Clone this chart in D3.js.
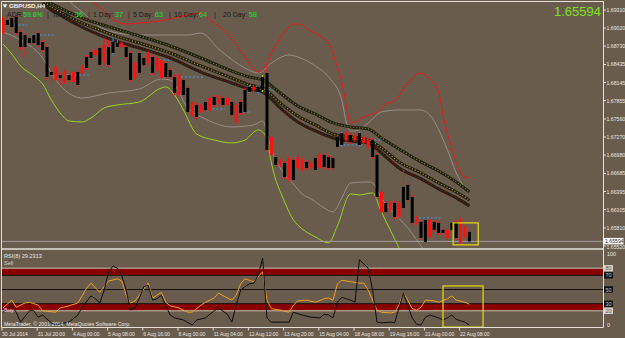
<!DOCTYPE html>
<html>
<head>
<meta charset="utf-8">
<script src="https://cdn.jsdelivr.net/npm/d3@7"></script>
<style>
html, body { margin: 0; padding: 0; background: #6a5c4d; }
svg { display: block; font-family: "Liberation Sans", Arial, sans-serif; }
</style>
</head>
<body>
<svg id="chart" width="625" height="338"></svg>
<script>
// ---- data ----
const symbol = "GBPUSD,H4";
const lastPrice = 1.65594;
const rsiLabel = "RSI(8) 29.2313";
const copyright = "MetaTrader, \u00a9 2001-2014, MetaQuotes Software Corp.";

const adrNames = ["ADR:", "Today:", "1 Day:", "5 Day:", "10 Day:", "20 Day:"];
const adrValues = ["59.8%", "36", "37", "63", "64", "58"];

const opens = [1.68940,1.69149,1.69181,1.69197,1.68956,1.68908,1.68860,1.68908,1.68940,1.68796,
  1.68716,1.68314,1.68186,1.68266,1.68154,1.68266,1.68154,1.68314,1.68298,1.68555,
  1.68635,1.68587,1.68700,1.68475,1.68716,1.68796,1.68780,1.68716,1.68716,1.68619,
  1.68218,1.68619,1.68539,1.68459,1.68555,1.68347,1.68218,1.68459,1.68347,1.68234,
  1.67945,1.68186,1.68058,1.67624,1.67785,1.67672,1.67833,1.67705,1.67913,1.67817,
  1.67897,1.67785,1.67833,1.67512,1.67833,1.68026,1.68074,1.68026,1.68074,1.68234,
  1.68298,1.66982,1.66950,1.66822,1.66854,1.66581,1.66902,1.66774,1.66742,1.66870,
  1.66774,1.66934,1.66774,1.66982,1.66950,1.66934,1.67271,1.67335,1.67223,1.67303,
  1.67223,1.67335,1.67175,1.67111,1.67223,1.66982,1.66067,1.66212,1.66100,1.66212,
  1.65987,1.66469,1.66501,1.66308,1.65891,1.65907,1.65939,1.65666,1.65907,1.65891,
  1.65779,1.65650,1.65891,1.65907,1.65570,1.65666,1.65746];
const highs = [1.69213,1.69181,1.69213,1.69229,1.68988,1.68940,1.68892,1.68940,1.68972,1.68828,
  1.68780,1.68379,1.68427,1.68314,1.68347,1.68298,1.68347,1.68347,1.68427,1.68587,
  1.68668,1.68700,1.68732,1.68860,1.68828,1.68860,1.68828,1.68812,1.68748,1.68651,
  1.68491,1.68651,1.68571,1.68651,1.68587,1.68571,1.68539,1.68491,1.68379,1.68266,
  1.68298,1.68218,1.68090,1.67849,1.67817,1.67817,1.67865,1.67929,1.67945,1.67945,
  1.67929,1.67929,1.67865,1.67817,1.67865,1.68058,1.68106,1.68106,1.68106,1.68266,
  1.68427,1.67303,1.66982,1.66934,1.66886,1.66966,1.66934,1.66982,1.66934,1.66902,
  1.66886,1.66966,1.67014,1.67014,1.66982,1.66966,1.67303,1.67367,1.67367,1.67335,
  1.67335,1.67367,1.67303,1.67255,1.67255,1.67014,1.66420,1.66244,1.66244,1.66244,
  1.66244,1.66742,1.66533,1.66340,1.66003,1.65939,1.65971,1.65971,1.65939,1.65923,
  1.65811,1.65811,1.65923,1.65939,1.65971,1.65859,1.65778];
const lows = [1.68908,1.69037,1.69005,1.68908,1.68668,1.68555,1.68748,1.68748,1.68716,1.68635,
  1.68186,1.68138,1.68154,1.68106,1.68122,1.68154,1.68122,1.68074,1.68266,1.68347,
  1.68507,1.68555,1.68395,1.68427,1.68395,1.68587,1.68700,1.68700,1.68523,1.68154,
  1.68186,1.68266,1.68395,1.68427,1.68266,1.68314,1.68186,1.68202,1.68202,1.67945,
  1.67913,1.67913,1.67640,1.67592,1.67560,1.67640,1.67672,1.67672,1.67753,1.67785,
  1.67753,1.67753,1.67592,1.67480,1.67624,1.67640,1.67961,1.67993,1.67961,1.67993,
  1.67031,1.66950,1.66790,1.66790,1.66597,1.66549,1.66549,1.66742,1.66710,1.66742,
  1.66742,1.66710,1.66742,1.66758,1.66742,1.66742,1.67079,1.67111,1.67191,1.67159,
  1.67191,1.67111,1.67143,1.67079,1.66918,1.66276,1.66035,1.66035,1.66067,1.65955,
  1.65955,1.66100,1.66228,1.65859,1.65859,1.65618,1.65554,1.65634,1.65746,1.65698,
  1.65698,1.65618,1.65746,1.65618,1.65554,1.65634,1.65570];
const closes = [1.69181,1.69069,1.69037,1.68940,1.68716,1.68716,1.68780,1.68780,1.68748,1.68668,
  1.68234,1.68266,1.68395,1.68218,1.68314,1.68186,1.68314,1.68106,1.68395,1.68379,
  1.68539,1.68668,1.68427,1.68748,1.68427,1.68619,1.68716,1.68780,1.68555,1.68186,
  1.68459,1.68298,1.68427,1.68619,1.68298,1.68539,1.68507,1.68234,1.68234,1.67977,
  1.68266,1.67945,1.67672,1.67817,1.67592,1.67785,1.67705,1.67897,1.67785,1.67913,
  1.67785,1.67897,1.67624,1.67785,1.67656,1.67672,1.67993,1.68074,1.67993,1.68026,
  1.67063,1.67271,1.66822,1.66902,1.66629,1.66934,1.66581,1.66950,1.66902,1.66774,
  1.66854,1.66742,1.66982,1.66790,1.66774,1.66774,1.67111,1.67143,1.67335,1.67191,
  1.67303,1.67143,1.67271,1.67223,1.66950,1.66308,1.66388,1.66067,1.66212,1.65987,
  1.66212,1.66132,1.66260,1.65891,1.65971,1.65650,1.65586,1.65939,1.65779,1.65730,
  1.65730,1.65779,1.65779,1.65650,1.65939,1.65827,1.65594];

// bars painted by the signal indicator
const blueBars = [25, 26, 56, 58, 77, 81];
const greenBars = [59];

// [bar, price] samples of the overlay lines
const bandRed = [[19,1.69566],[20,1.69470],[21,1.69406],[23,1.69293],[26,1.69117],[28,1.69085],[31,1.69101],[37,1.69149],[42,1.69229],[45,1.69261],[47,1.69149],[49,1.69053],[52,1.68844],[55,1.68555],[57,1.68363],[58,1.68314],[59,1.68347],[61,1.68619],[63,1.68860],[65,1.69037],[66,1.69085],[67,1.69085],[70,1.68972],[72,1.68892],[74,1.68780],[76,1.68395],[77,1.68154],[78,1.67785],[79,1.67496],[80,1.67512],[82,1.67592],[85,1.67672],[87,1.67801],[89,1.67849],[92,1.68138],[95,1.68298],[97,1.68202],[99,1.67993],[100,1.67624],[102,1.67095],[104,1.66694],[105,1.66629],[106,1.66612]];
const bandGrayUp = [[14,1.69534],[15,1.69454],[16,1.69390],[18,1.69277],[22,1.69037],[25,1.68956],[31,1.68908],[38,1.68908],[42,1.68908],[45,1.68940],[49,1.68684],[55,1.68379],[58,1.68298],[61,1.68459],[65,1.68587],[67,1.68555],[71,1.68411],[74,1.68234],[77,1.67865],[78,1.67512],[79,1.67367],[80,1.67367],[83,1.67496],[86,1.67672],[90,1.67705],[95,1.67705],[97,1.67624],[101,1.67063],[103,1.66694],[105,1.66453],[106,1.66388]];
const bandGrayLow = [[0,1.68956],[4,1.68828],[9,1.68539],[12,1.68186],[18,1.67897],[24,1.67977],[31,1.68042],[36,1.68202],[38,1.68186],[42,1.67737],[46,1.67560],[52,1.67432],[57,1.67464],[59,1.67528],[61,1.67063],[63,1.66774],[66,1.66517],[68,1.66356],[70,1.66276],[73,1.66132],[75,1.66067],[77,1.66292],[79,1.66533],[83,1.66549],[84,1.66533],[86,1.66292],[89,1.66035],[92,1.65811],[94,1.65619],[96,1.65425],[98,1.65265]];
const bandLime = [[0,1.68764],[2,1.68603],[4,1.68411],[7,1.68250],[9,1.68122],[11,1.67865],[13,1.67656],[15,1.67528],[18,1.67512],[20,1.67576],[23,1.67737],[26,1.67785],[31,1.67833],[36,1.68058],[37,1.68074],[39,1.67945],[41,1.67705],[44,1.67319],[48,1.67223],[52,1.67175],[55,1.67223],[58,1.67384],[59,1.67351],[60,1.67223],[61,1.66854],[64,1.66228],[66,1.65939],[68,1.65795],[71,1.65666],[74,1.65570],[76,1.65843],[79,1.66356],[81,1.66340],[84,1.66372],[86,1.66067],[88,1.65779],[90,1.65490],[91,1.65361]];

const maTop = [[9,1.69502],[10,1.69454],[13,1.69342],[17,1.69213],[22,1.69085],[25,1.69021],[31,1.68892],[38,1.68732],[45,1.68539],[52,1.68330],[56,1.68234],[59,1.68186],[63,1.67977],[67,1.67769],[71,1.67640],[75,1.67496],[79,1.67432],[83,1.67400],[86,1.67255],[90,1.67079],[95,1.66870],[99,1.66725],[103,1.66549],[106,1.66388]];
const maMid = [[9,1.69470],[10,1.69406],[13,1.69277],[17,1.69133],[22,1.68989],[25,1.68908],[31,1.68780],[38,1.68619],[45,1.68411],[52,1.68218],[56,1.68106],[59,1.68058],[63,1.67817],[67,1.67608],[71,1.67464],[75,1.67319],[79,1.67271],[83,1.67223],[86,1.67095],[90,1.66870],[95,1.66693],[99,1.66533],[103,1.66388],[106,1.66260]];
const maLow = [[9,1.69422],[10,1.69358],[13,1.69229],[17,1.69069],[22,1.68908],[25,1.68828],[31,1.68700],[38,1.68539],[45,1.68314],[52,1.68138],[56,1.68042],[59,1.67993],[63,1.67737],[67,1.67512],[71,1.67367],[75,1.67255],[79,1.67207],[83,1.67175],[86,1.67014],[90,1.66774],[95,1.66597],[99,1.66437],[103,1.66292],[106,1.66164]];

// short blue dotted levels: [fromBar, toBar, price]
const blueLevels = [[3,5,1.69069],[7,11,1.68908],[15,19,1.68266],[36,38,1.68507],[40,45,1.68234],[48,50,1.67721],[55,56,1.67672],[59,62,1.68026],[76,81,1.67143],[83,86,1.67223],[95,99,1.65971]];

// lower window: [bar, value]
const rsiFast = [[0,18],[2,27],[3,18],[4,4],[6,20],[7,20],[8,11],[9,14],[11,3],[12,0],[14,3],[15,4],[17,14],[18,25],[20,41],[21,37],[22,31],[23,49],[24,75],[25,83],[26,80],[27,69],[28,49],[29,21],[30,24],[31,38],[32,54],[33,56],[34,35],[35,37],[36,42],[37,27],[38,14],[39,10],[41,7],[43,0],[44,7],[46,10],[48,20],[49,24],[51,15],[52,4],[53,28],[54,49],[55,54],[56,58],[57,59],[58,70],[59,94],[60,10],[61,4],[63,4],[65,4],[66,18],[68,14],[70,11],[72,10],[73,15],[74,14],[75,10],[76,32],[77,39],[78,37],[79,35],[80,32],[81,92],[82,86],[83,80],[84,49],[85,4],[86,3],[88,4],[89,3],[90,24],[91,45],[92,27],[93,10],[94,1],[95,0],[96,11],[97,14],[99,10],[100,7],[101,10],[102,14],[103,8],[104,6],[105,4],[106,0]];
const rsiSlow = [[0,24],[2,35],[3,25],[5,31],[6,32],[8,28],[9,20],[12,18],[13,24],[15,27],[17,31],[18,41],[19,52],[20,59],[22,46],[23,54],[24,62],[26,65],[27,62],[28,42],[29,31],[30,34],[31,42],[33,59],[34,38],[35,42],[36,46],[37,32],[38,27],[40,24],[42,18],[43,18],[45,28],[46,32],[48,38],[49,45],[51,38],[52,35],[53,42],[54,58],[55,65],[56,63],[57,61],[58,68],[59,75],[60,35],[61,23],[63,21],[65,18],[66,28],[67,34],[69,35],[71,32],[73,37],[74,38],[75,35],[76,58],[77,63],[79,61],[81,59],[82,59],[83,49],[85,21],[86,18],[88,17],[89,18],[90,28],[91,45],[92,35],[93,23],[94,21],[95,25],[96,35],[98,34],[99,32],[101,37],[102,41],[103,35],[105,32],[106,29.23]];

const rsiLevels = [80, 70, 50, 30, 20];
const rsiZones = [[70, 80], [20, 30]];

const priceTicks = [1.69310,1.69020,1.68730,1.68435,1.68145,1.67855,1.67560,1.67270,1.66980,1.66685,1.66395,1.66105,1.65810,1.65520];
const dateIdx = [0,8,16,24,32,40,48,56,64,72,80,88,96,104];
const dateLabels = ["30 Jul 2014","31 Jul 20:00","4 Aug 00:00","5 Aug 08:00","6 Aug 16:00","8 Aug 00:00","11 Aug 04:00","12 Aug 12:00","13 Aug 20:00","15 Aug 04:00","18 Aug 08:00","19 Aug 16:00","21 Aug 00:00","22 Aug 08:00"];

// yellow markup boxes: bars and values
const boxMain = {from: 102.3, to: 108, hi: 1.65891, lo: 1.65538};
const boxRsi = {from: 100, to: 109.1, hi: 55, lo: -3};

// ---- layout ----
const svg = d3.select("#chart");
const bg = "#6a5c4d";
const frameColor = "#e6e0d6";
const textColor = "#ece8e0";

const x = d3.scaleLinear().domain([0, 136]).range([3, 601.4]);
const y = d3.scaleLinear().domain([1.65520, 1.69310]).range([246, 10]);
const yR = d3.scaleLinear().domain([0, 100]).range([325, 254]);

svg.append("rect").attr("width", 625).attr("height", 338).attr("fill", bg);

const defs = svg.append("defs");
defs.append("clipPath").attr("id", "clipMain").append("rect")
  .attr("x", 2).attr("y", 2).attr("width", 601).attr("height", 246);
defs.append("clipPath").attr("id", "clipRsi").append("rect")
  .attr("x", 2).attr("y", 250).attr("width", 601).attr("height", 77);

const main = svg.append("g").attr("clip-path", "url(#clipMain)");

const priceLine = d3.line().x(d => x(d[0])).y(d => y(d[1])).curve(d3.curveMonotoneX);

// envelope lines
main.append("path").datum(bandGrayUp).attr("d", priceLine)
  .attr("fill", "none").attr("stroke", "#968e85").attr("stroke-width", 1);
main.append("path").datum(bandGrayLow).attr("d", priceLine)
  .attr("fill", "none").attr("stroke", "#968e85").attr("stroke-width", 1);
main.append("path").datum(bandRed).attr("d", priceLine)
  .attr("fill", "none").attr("stroke", "#e8181a").attr("stroke-width", 1);
main.append("path").datum(bandLime).attr("d", priceLine)
  .attr("fill", "none").attr("stroke", "#98d41e").attr("stroke-width", 1);

// current price line
main.append("line")
  .attr("x1", 2).attr("x2", 603)
  .attr("y1", y(lastPrice)).attr("y2", y(lastPrice))
  .attr("stroke", "#9c9c9c").attr("stroke-width", 1);

// blue dotted levels
main.selectAll("line.lvl").data(blueLevels).enter().append("line")
  .attr("class", "lvl")
  .attr("x1", d => x(d[0]) - 2).attr("x2", d => x(d[1]) + 2)
  .attr("y1", d => y(d[2])).attr("y2", d => y(d[2]))
  .attr("stroke", "#3a9cf0").attr("stroke-width", 1)
  .attr("stroke-dasharray", "2,2");

// moving average channels (dark core with coloured dots)
[[maTop, "#6e9424"], [maMid, "#b8aa1c"], [maLow, "#8e1616"]].forEach(([data, col]) => {
  main.append("path").datum(data).attr("d", priceLine)
    .attr("fill", "none").attr("stroke", "#231d12").attr("stroke-width", 3);
  main.append("path").datum(data).attr("d", priceLine)
    .attr("fill", "none").attr("stroke", col).attr("stroke-width", 1.2)
    .attr("stroke-dasharray", "1,2");
});

// candles
const bars = d3.range(opens.length).map(i => ({
  i, o: opens[i], h: highs[i], l: lows[i], c: closes[i],
  edge: blueBars.includes(i) ? "#2a8cff" : greenBars.includes(i) ? "#8ce020" : "#ff1010"
}));

const cg = main.append("g");
cg.selectAll("line.wick").data(bars).enter().append("line")
  .attr("class", "wick")
  .attr("x1", d => x(d.i)).attr("x2", d => x(d.i))
  .attr("y1", d => y(d.h)).attr("y2", d => y(d.l))
  .attr("stroke", d => d.edge).attr("stroke-width", 1);
cg.selectAll("rect.body").data(bars).enter().append("rect")
  .attr("class", "body")
  .attr("x", d => x(d.i) - 1.5)
  .attr("width", 3)
  .attr("y", d => y(Math.max(d.o, d.c)))
  .attr("height", d => Math.max(1, y(Math.min(d.o, d.c)) - y(Math.max(d.o, d.c))))
  .attr("fill", d => d.c >= d.o ? "#ff1010" : "#000");

// yellow box, main window
main.append("rect")
  .attr("x", x(boxMain.from)).attr("y", y(boxMain.hi))
  .attr("width", x(boxMain.to) - x(boxMain.from))
  .attr("height", y(boxMain.lo) - y(boxMain.hi))
  .attr("fill", "none").attr("stroke", "#e8dc10").attr("stroke-width", 1.2);

// ---- RSI window ----
const rsi = svg.append("g").attr("clip-path", "url(#clipRsi)");
rsi.selectAll("rect.zone").data(rsiZones).enter().append("rect")
  .attr("class", "zone")
  .attr("x", 2).attr("width", 601)
  .attr("y", d => yR(d[1])).attr("height", d => yR(d[0]) - yR(d[1]))
  .attr("fill", "#8a0000");
rsi.selectAll("line.lev").data(rsiLevels).enter().append("line")
  .attr("class", "lev")
  .attr("x1", 2).attr("x2", 603)
  .attr("y1", d => yR(d)).attr("y2", d => yR(d))
  .attr("stroke", d => (d === 80 || d === 20) ? "#c8c0b4" : "#111")
  .attr("stroke-width", 1);

const rsiLine = d3.line().x(d => x(d[0])).y(d => yR(d[1]));
rsi.append("path").datum(rsiSlow).attr("d", rsiLine)
  .attr("fill", "none").attr("stroke", "#f0a020").attr("stroke-width", 1);
rsi.append("path").datum(rsiFast).attr("d", rsiLine)
  .attr("fill", "none").attr("stroke", "#0c0c0c").attr("stroke-width", 1);

rsi.append("rect")
  .attr("x", x(boxRsi.from)).attr("y", yR(boxRsi.hi))
  .attr("width", x(boxRsi.to) - x(boxRsi.from))
  .attr("height", yR(boxRsi.lo) - yR(boxRsi.hi))
  .attr("fill", "none").attr("stroke", "#e8dc10").attr("stroke-width", 1.2);

rsi.append("text").attr("x", 4).attr("y", 257.5)
  .attr("font-size", 5.6).attr("fill", textColor).text(rsiLabel);
rsi.append("text").attr("x", 4).attr("y", 264.5)
  .attr("font-size", 5.6).attr("fill", "#d8d0c6").text("Sell");
rsi.append("text").attr("x", 4).attr("y", 312)
  .attr("font-size", 5.6).attr("fill", "#f4b8c8").text("Buy");
rsi.append("text").attr("x", 4).attr("y", 325.5)
  .attr("font-size", 5.2).attr("fill", textColor).text(copyright);

// ---- frame ----
const frame = svg.append("g").attr("stroke", frameColor).attr("fill", "none");
frame.append("line").attr("x1", 1.5).attr("x2", 603.5).attr("y1", 1.5).attr("y2", 1.5);
frame.append("line").attr("x1", 1.5).attr("x2", 1.5).attr("y1", 1.5).attr("y2", 327.5);
frame.append("line").attr("x1", 603.5).attr("x2", 603.5).attr("y1", 1.5).attr("y2", 327.5);
frame.append("line").attr("x1", 1.5).attr("x2", 603.5).attr("y1", 249).attr("y2", 249).attr("stroke-width", 1.6);
frame.append("line").attr("x1", 1.5).attr("x2", 603.5).attr("y1", 327.5).attr("y2", 327.5);

// ---- price axis ----
const pAxis = svg.append("g");
pAxis.selectAll("line").data(priceTicks).enter().append("line")
  .attr("x1", 603.5).attr("x2", 606)
  .attr("y1", d => y(d)).attr("y2", d => y(d))
  .attr("stroke", frameColor);
pAxis.selectAll("text").data(priceTicks.slice(0, -1)).enter().append("text")
  .attr("x", 606.5).attr("y", d => y(d) + 2)
  .attr("font-size", 5.2).attr("fill", textColor)
  .text(d => d.toFixed(5));
// lowest label sits partly under the current price tag
pAxis.append("text").attr("x", 606.5).attr("y", 249)
  .attr("font-size", 5.2).attr("fill", textColor).text(priceTicks[priceTicks.length - 1].toFixed(5));
pAxis.append("rect").attr("x", 603.5).attr("y", y(lastPrice) - 3.5)
  .attr("width", 20).attr("height", 6.5).attr("fill", "#fafafa");
pAxis.append("text").attr("x", 605).attr("y", y(lastPrice) + 1.8)
  .attr("font-size", 5.2).attr("fill", "#333").text(lastPrice.toFixed(5));

// RSI scale
const rAxis = svg.append("g");
rAxis.append("text").attr("x", 607).attr("y", yR(100) + 2)
  .attr("font-size", 5.4).attr("fill", textColor).text("100");
rAxis.append("text").attr("x", 607).attr("y", yR(0) + 2)
  .attr("font-size", 5.4).attr("fill", textColor).text("0");
rsiLevels.forEach(v => {
  const light = (v === 80 || v === 20);
  rAxis.append("rect").attr("x", 604).attr("y", yR(v) - 3.2)
    .attr("width", 9).attr("height", 6.4)
    .attr("fill", light ? "#d4d0c8" : "#111");
  rAxis.append("text").attr("x", 605.5).attr("y", yR(v) + 2)
    .attr("font-size", 5.4).attr("fill", light ? "#555" : "#ccc").text(v);
});

// ---- time axis ----
const tAxis = svg.append("g");
tAxis.selectAll("line").data(dateIdx).enter().append("line")
  .attr("x1", d => x(d) - 1).attr("x2", d => x(d) - 1)
  .attr("y1", 327.5).attr("y2", 330.5).attr("stroke", frameColor);
tAxis.selectAll("text").data(dateIdx).enter().append("text")
  .attr("x", (d, i) => i === 0 ? 2 : x(d) - 0.5)
  .attr("y", 335.5)
  .attr("font-size", 5).attr("fill", textColor)
  .text((d, i) => dateLabels[i]);

// ---- header texts ----
svg.append("path")
  .attr("d", d3.symbol().type(d3.symbolTriangle).size(9)())
  .attr("transform", "translate(5,5.5) rotate(180)")
  .attr("fill", "#f0f0f0");
svg.append("text").attr("x", 9).attr("y", 8)
  .attr("font-size", 6.2).attr("font-weight", "bold").attr("fill", "#f2f2f2").text(symbol);

const adrNameX = [7, 52, 93, 133, 174, 223];
const adrBarX = [47, 88, 128, 169, 214];
const adrValX = [23, 75, 115, 155, 199, 249];
const hdr = svg.append("g").attr("font-size", 7);
adrNames.forEach((t, i) => {
  hdr.append("text").attr("x", adrNameX[i]).attr("y", 17)
    .attr("fill", "#1c1c1c").text(t);
  hdr.append("text").attr("x", adrValX[i]).attr("y", 17)
    .attr("fill", "#20e020").text(adrValues[i]);
});
adrBarX.forEach(bx => {
  hdr.append("text").attr("x", bx).attr("y", 17).attr("fill", "#1c1c1c").text("|");
});

svg.append("text").attr("x", 601).attr("y", 16)
  .attr("text-anchor", "end").attr("font-size", 13)
  .attr("fill", "#7ee21e").text(lastPrice.toFixed(5));
</script>
</body>
</html>
